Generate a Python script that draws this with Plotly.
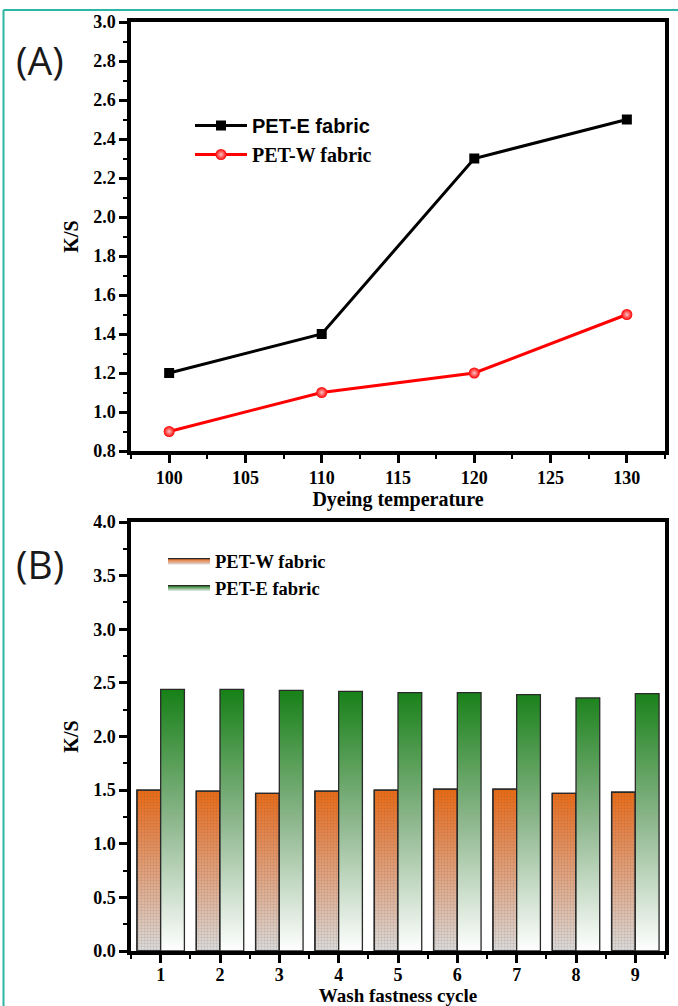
import plotly.graph_objects as go

# ---------------- data ----------------
temps = [100, 110, 120, 130]
ks_pet_e = [1.2, 1.4, 2.3, 2.5]
ks_pet_w = [0.9, 1.1, 1.2, 1.5]

cycles = [1, 2, 3, 4, 5, 6, 7, 8, 9]
wash_pet_w = [1.50, 1.49, 1.47, 1.49, 1.50, 1.51, 1.51, 1.47, 1.48]
wash_pet_e = [2.44, 2.44, 2.43, 2.42, 2.41, 2.41, 2.39, 2.36, 2.40]

BAR_W = 0.4
W, H = 678, 1006

SERIF = "Liberation Serif, Times New Roman, serif"


def bar_polygons(xs, ys, lo, hi):
    px, py = [], []
    for x, y in zip(xs, ys):
        px += [x + lo, x + lo, x + hi, x + hi, x + lo, None]
        py += [0, y, y, 0, 0, None]
    return px, py


fig = go.Figure()

# ---------------- panel A ----------------
fig.add_trace(go.Scatter(
    x=temps, y=ks_pet_e, mode="lines+markers",
    name="<span style='font-family:Liberation Sans'>PET-E fabric</span>",
    line=dict(color="black", width=3),
    marker=dict(symbol="square", size=10, color="black"),
    xaxis="x", yaxis="y", legend="legend",
))
fig.add_trace(go.Scatter(
    x=temps, y=ks_pet_w, mode="lines+markers",
    name="PET-W fabric",
    line=dict(color="#ff0000", width=3),
    marker=dict(symbol="circle", size=11, color="#ff0000",
                gradient=dict(type="radial", color="#ffc0c0")),
    xaxis="x", yaxis="y", legend="legend",
))

# ---------------- panel B ----------------
wx, wy = bar_polygons(cycles, wash_pet_w, -BAR_W, 0)
ex, ey = bar_polygons(cycles, wash_pet_e, 0, BAR_W)

fig.add_trace(go.Scatter(
    x=wx, y=wy, mode="lines", fill="toself", name="PET-W fabric",
    line=dict(color="#2a2a2a", width=1.3),
    fillgradient=dict(type="vertical", start=0, stop=max(wash_pet_w),
                      colorscale=[[0, "rgb(220,220,220)"], [0.45, "rgb(226,165,130)"],
                                  [0.8, "rgb(232,125,60)"], [1, "rgb(236,105,15)"]]),
    xaxis="x2", yaxis="y2", legend="legend2", hoverinfo="skip",
))
fig.add_trace(go.Scatter(
    x=wx, y=wy, mode="lines", fill="toself", showlegend=False,
    line=dict(color="#2a2a2a", width=1.3),
    fillcolor="rgba(0,0,0,0)",
    fillpattern=dict(shape=".", fgcolor="rgba(90,90,90,0.45)", bgcolor="rgba(0,0,0,0)",
                     size=3, solidity=0.35),
    xaxis="x2", yaxis="y2", hoverinfo="skip",
))
fig.add_trace(go.Scatter(
    x=ex, y=ey, mode="lines", fill="toself", name="PET-E fabric",
    line=dict(color="#2a2a2a", width=1.3),
    fillgradient=dict(type="vertical", start=0, stop=max(wash_pet_e),
                      colorscale=[[0, "rgb(255,255,255)"], [0.5, "rgb(140,182,140)"],
                                  [1, "rgb(22,128,22)"]]),
    xaxis="x2", yaxis="y2", legend="legend2", hoverinfo="skip",
))

tickfont = dict(family=SERIF, size=18, color="black", weight="bold")
titlefont = dict(family=SERIF, size=20, color="black", weight="bold")

axis_common = dict(
    showline=True, linecolor="black", linewidth=3.5, mirror=True,
    ticks="outside", ticklen=8, tickwidth=3, tickcolor="black",
    showgrid=False, zeroline=False, tickfont=tickfont, automargin=False,
)
minor_common = dict(ticklen=4, tickwidth=2, tickcolor="black", ticks="outside")

x_dom = [131 / W, 665 / W]
fig.update_layout(
    width=W, height=H,
    margin=dict(l=0, r=0, t=0, b=0, autoexpand=False),
    paper_bgcolor="white", plot_bgcolor="white",
    xaxis=dict(domain=x_dom, anchor="y", range=[97.5, 132.5], dtick=5, tick0=100,
               minor=dict(dtick=2.5, **minor_common),
               title=dict(text="Dyeing temperature", font=titlefont, standoff=6),
               **axis_common),
    yaxis=dict(domain=[1 - 451 / H, 1 - 22 / H], anchor="x", range=[0.8, 3.0], dtick=0.2,
               tickformat=".1f", minor=dict(dtick=0.1, **minor_common),
               title=dict(text="K/S", font=titlefont, standoff=10),
               **axis_common),
    xaxis2=dict(domain=x_dom, anchor="y2", range=[0.5, 9.5], dtick=1, tick0=1,
                minor=dict(dtick=0.5, **minor_common),
                ticklabelstandoff=-3,
                title=dict(text="Wash fastness cycle",
                           font=dict(family=SERIF, size=19, color="black", weight="bold"),
                           standoff=4),
                **axis_common),
    yaxis2=dict(domain=[1 - 951 / H, 1 - 522 / H], anchor="x2", range=[0, 4.0], dtick=0.5,
                tickformat=".1f", minor=dict(dtick=0.25, **minor_common),
                title=dict(text="K/S", font=titlefont, standoff=10),
                **axis_common),
    legend=dict(x=190 / W, y=1 - 106 / H, xanchor="left", yanchor="top",
                bgcolor="rgba(0,0,0,0)", borderwidth=0, tracegroupgap=0,
                font=dict(family=SERIF, size=20, color="black", weight="bold"),
                itemwidth=52),
    legend2=dict(x=163 / W, y=1 - 542 / H, xanchor="left", yanchor="top",
                 bgcolor="rgba(0,0,0,0)", borderwidth=0,
                 font=dict(family=SERIF, size=18.5, color="black", weight="bold"),
                 itemwidth=42),
    showlegend=True,
)

# panel letters
fig.add_annotation(text="(A)", x=40 / W, y=1 - 60 / H, xref="paper", yref="paper",
                   xanchor="center", yanchor="middle", showarrow=False,
                   font=dict(family="Open Sans, sans-serif", size=39, color="#1a1a1a"))
fig.add_annotation(text="(B)", x=40 / W, y=1 - 563 / H, xref="paper", yref="paper",
                   xanchor="center", yanchor="middle", showarrow=False,
                   font=dict(family="Open Sans, sans-serif", size=39, color="#1a1a1a"))

# teal frame
teal = "#2bb5a4"
fig.add_shape(type="line", xref="paper", yref="paper", x0=3.5 / W, x1=3.5 / W,
              y0=0, y1=1 - 10 / H, line=dict(color=teal, width=2))
fig.add_shape(type="line", xref="paper", yref="paper", x0=3.5 / W, x1=1,
              y0=1 - 10 / H, y1=1 - 10 / H, line=dict(color=teal, width=2))

fig.write_html(
    "out.html",
    config={"displayModeBar": False},
    post_script="document.body.style.margin='0px';document.body.style.padding='0px';"
                "document.body.style.overflow='hidden';",
)
